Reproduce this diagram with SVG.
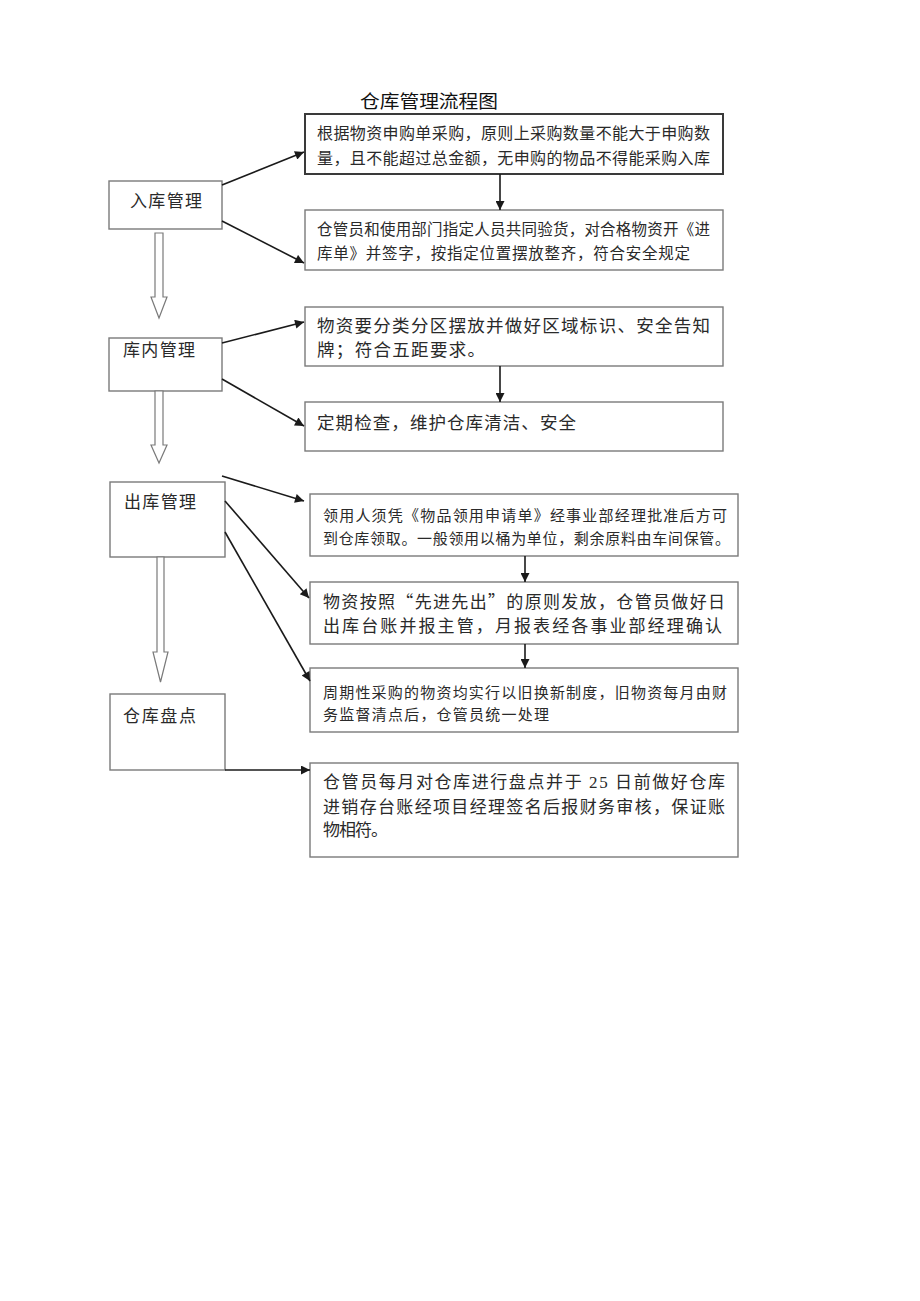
<svg xmlns="http://www.w3.org/2000/svg" width="920" height="1301" viewBox="0 0 920 1301">
<style>
.bg{fill:#ffffff}
.box{fill:#ffffff;stroke:#7a7a7a;stroke-width:1.4}
.boxd{fill:#ffffff;stroke:#3a3a3a;stroke-width:2}
.t{font-family:"Liberation Serif","Noto Sans CJK SC",serif;fill:#2a2a2a}
.tc{font-family:"Noto Sans CJK SC","Liberation Serif",sans-serif;fill:#2a2a2a}
.title{font-family:"Noto Sans CJK SC","Liberation Sans",sans-serif;fill:#111;font-size:18px}
.c{stroke:#1a1a1a;stroke-width:1.6;fill:none;marker-end:url(#ah)}
.hollow{fill:#ffffff;stroke:#7a7a7a;stroke-width:1.2}
</style>
<defs>
<marker id="ah" viewBox="0 0 10 10" refX="10" refY="5" markerWidth="11" markerHeight="9" markerUnits="userSpaceOnUse" orient="auto">
<path d="M0,0 L10,5 L0,10 Z" fill="#1a1a1a"/>
</marker>
</defs>
<rect class="bg" x="0" y="0" width="920" height="1301"/>

<text class="title" x="360" y="108" textLength="138" lengthAdjust="spacingAndGlyphs">仓库管理流程图</text>

<g id="n-ruku">
<rect class="box" x="109" y="181" width="113" height="48"/>
<text class="t" x="130" y="206.5" font-size="17" textLength="72">入库管理</text>
</g>
<g id="n-kunei">
<rect class="box" x="109" y="338" width="113" height="53"/>
<text class="t" x="123" y="355.5" font-size="17" textLength="72">库内管理</text>
</g>
<g id="n-chuku">
<rect class="box" x="110" y="482" width="115" height="75"/>
<text class="t" x="124" y="507.5" font-size="17" textLength="72">出库管理</text>
</g>
<g id="n-pandian">
<rect class="box" x="110" y="694" width="115" height="76"/>
<text class="t" x="123" y="721.5" font-size="17" textLength="73">仓库盘点</text>
</g>

<g id="n-a1">
<rect class="boxd" x="305" y="114" width="418" height="60"/>
<text class="t" x="317" y="139" font-size="16" textLength="393">根据物资申购单采购，原则上采购数量不能大于申购数</text>
<text class="t" x="317" y="164" font-size="16" textLength="393">量，且不能超过总金额，无申购的物品不得能采购入库</text>
</g>
<g id="n-a2">
<rect class="box" x="305" y="210" width="418" height="60"/>
<text class="t" x="317" y="235" font-size="15.5" textLength="393">仓管员和使用部门指定人员共同验货，对合格物资开《进</text>
<text class="t" x="317" y="259" font-size="15.5" textLength="373">库单》并签字，按指定位置摆放整齐，符合安全规定</text>
</g>
<g id="n-b1">
<rect class="box" x="305" y="307" width="418" height="59"/>
<text class="t" x="317" y="332" font-size="17.5" textLength="393">物资要分类分区摆放并做好区域标识、安全告知</text>
<text class="t" x="317" y="356" font-size="17.5" textLength="168">牌；符合五距要求。</text>
</g>
<g id="n-b2">
<rect class="box" x="305" y="402" width="418" height="49"/>
<text class="t" x="317" y="429" font-size="17.5" textLength="259">定期检查，维护仓库清洁、安全</text>
</g>
<g id="n-c1">
<rect class="box" x="310" y="494" width="428" height="62"/>
<text class="t" x="323" y="521" font-size="15" textLength="404">领用人须凭《物品领用申请单》经事业部经理批准后方可</text>
<text class="t" x="323" y="544" font-size="15" textLength="407">到仓库领取。一般领用以桶为单位，剩余原料由车间保管。</text>
</g>
<g id="n-c2">
<rect class="box" x="310" y="582" width="428" height="62"/>
<text class="tc" x="323" y="608" font-size="17" textLength="402">物资按照“先进先出”的原则发放，仓管员做好日</text>
<text class="t" x="323" y="632" font-size="17" textLength="399">出库台账并报主管，月报表经各事业部经理确认</text>
</g>
<g id="n-c3">
<rect class="box" x="310" y="668" width="428" height="64"/>
<text class="t" x="323" y="698" font-size="15" textLength="404">周期性采购的物资均实行以旧换新制度，旧物资每月由财</text>
<text class="t" x="323" y="720" font-size="15" textLength="226">务监督清点后，仓管员统一处理</text>
</g>
<g id="n-d">
<rect class="box" x="310" y="763" width="428" height="94"/>
<text class="t" x="323" y="788" font-size="17" textLength="402">仓管员每月对仓库进行盘点并于 25 日前做好仓库</text>
<text class="t" x="323" y="813" font-size="17" textLength="402">进销存台账经项目经理签名后报财务审核，保证账</text>
<text class="t" x="323" y="836" font-size="17" textLength="65">物相符。</text>
</g>

<g id="connectors">
<line class="c" x1="222" y1="185" x2="304" y2="152"/>
<line class="c" x1="222" y1="221" x2="304" y2="263"/>
<line class="c" x1="500" y1="174" x2="500" y2="210"/>
<line class="c" x1="222" y1="343" x2="304" y2="322"/>
<line class="c" x1="222" y1="379" x2="304" y2="426"/>
<line class="c" x1="500" y1="366" x2="500" y2="402"/>
<line class="c" x1="222" y1="476" x2="304" y2="501"/>
<line class="c" x1="225" y1="501" x2="309" y2="598"/>
<line class="c" x1="225" y1="532" x2="310" y2="681"/>
<line class="c" x1="525" y1="556" x2="525" y2="582"/>
<line class="c" x1="525" y1="644" x2="525" y2="668"/>
<line class="c" x1="225" y1="770" x2="310" y2="770"/>
<polygon class="hollow" points="155,233 163,233 163,297 167,297 159,318 151,297 155,297"/>
<polygon class="hollow" points="155,391 163,391 163,445 167,445 159,463 151,445 155,445"/>
<polygon class="hollow" points="157,557 164,557 164,652 168,652 160.5,682 153,652 157,652"/>
</g>
</svg>
